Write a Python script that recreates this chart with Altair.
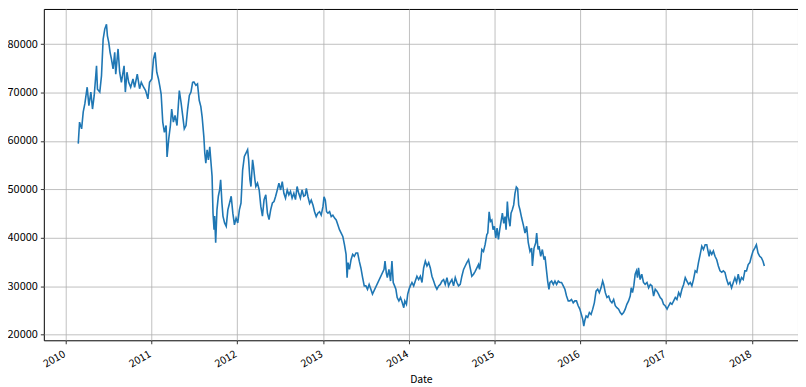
import altair as alt
import pandas as pd

t_years = [
    2010.147, 2010.162, 2010.186, 2010.205, 2010.224, 2010.251, 2010.271, 2010.294, 2010.313, 2010.333,
    2010.360, 2010.371, 2010.398, 2010.418, 2010.437, 2010.456, 2010.476, 2010.487, 2010.503, 2010.518,
    2010.534, 2010.553, 2010.572, 2010.584, 2010.611, 2010.630, 2010.650, 2010.681, 2010.696, 2010.715,
    2010.735, 2010.758, 2010.785, 2010.804, 2010.835, 2010.862, 2010.882, 2010.909, 2010.932, 2010.959,
    2010.978, 2011.005, 2011.025, 2011.044, 2011.063, 2011.083, 2011.098, 2011.114, 2011.133, 2011.152,
    2011.172, 2011.183, 2011.203, 2011.222, 2011.237, 2011.257, 2011.276, 2011.299, 2011.326, 2011.346,
    2011.365, 2011.384, 2011.404, 2011.423, 2011.443, 2011.462, 2011.481,
    2011.496, 2011.519, 2011.538, 2011.558, 2011.577, 2011.592, 2011.612, 2011.623, 2011.635, 2011.650,
    2011.665, 2011.681, 2011.696, 2011.708, 2011.719, 2011.731, 2011.738, 2011.750, 2011.765, 2011.781,
    2011.796, 2011.808, 2011.823, 2011.835, 2011.854, 2011.873, 2011.892, 2011.912, 2011.931, 2011.950,
    2011.969, 2011.988, 2012.008, 2012.027, 2012.046, 2012.065, 2012.085, 2012.104, 2012.123, 2012.135,
    2012.150, 2012.162, 2012.181, 2012.192, 2012.208, 2012.219, 2012.238, 2012.258, 2012.277, 2012.296,
    2012.315, 2012.335, 2012.354, 2012.373, 2012.392, 2012.412, 2012.431, 2012.450, 2012.469, 2012.488,
    2012.508, 2012.527, 2012.546, 2012.565, 2012.585, 2012.604, 2012.623, 2012.642, 2012.662, 2012.681,
    2012.700, 2012.719, 2012.738, 2012.758, 2012.777,
    2012.795, 2012.808, 2012.827, 2012.846, 2012.865, 2012.885, 2012.904, 2012.923, 2012.942, 2012.962,
    2012.981, 2013.000, 2013.012, 2013.027, 2013.042, 2013.058, 2013.077, 2013.096, 2013.115, 2013.135,
    2013.154, 2013.173, 2013.192, 2013.212, 2013.231, 2013.250, 2013.269, 2013.281, 2013.292, 2013.308,
    2013.327, 2013.346, 2013.365, 2013.385, 2013.404, 2013.423, 2013.442, 2013.462, 2013.481, 2013.500,
    2013.519, 2013.538, 2013.558, 2013.577, 2013.712, 2013.723, 2013.738, 2013.750, 2013.769, 2013.788,
    2013.804, 2013.819, 2013.835, 2013.850, 2013.865, 2013.885, 2013.904, 2013.923, 2013.942, 2013.954,
    2013.973, 2013.988, 2014.004, 2014.019, 2014.038, 2014.058, 2014.077, 2014.096,
    2014.116, 2014.136, 2014.155, 2014.174, 2014.194, 2014.213, 2014.233, 2014.252, 2014.271, 2014.291,
    2014.310, 2014.329, 2014.349, 2014.368, 2014.388, 2014.407, 2014.426, 2014.446, 2014.465, 2014.484,
    2014.504, 2014.523, 2014.543, 2014.562, 2014.581, 2014.601, 2014.620, 2014.640, 2014.659, 2014.678,
    2014.698, 2014.717, 2014.736, 2014.756, 2014.775, 2014.795, 2014.814, 2014.826, 2014.841, 2014.853,
    2014.872, 2014.891, 2014.911, 2014.922, 2014.938, 2014.953, 2014.969, 2014.984, 2015.000, 2015.016,
    2015.031, 2015.047, 2015.062, 2015.078, 2015.093, 2015.109, 2015.124, 2015.136, 2015.151, 2015.163,
    2015.182, 2015.194, 2015.209, 2015.225, 2015.240, 2015.256, 2015.271, 2015.283, 2015.298, 2015.318,
    2015.337, 2015.357, 2015.376, 2015.395, 2015.415, 2015.434,
    2015.443, 2015.462, 2015.482, 2015.493, 2015.509, 2015.520, 2015.540, 2015.559, 2015.579, 2015.590,
    2015.606, 2015.621, 2015.636, 2015.648, 2015.667, 2015.687, 2015.706, 2015.725, 2015.745, 2015.764,
    2015.783, 2015.803, 2015.822, 2015.841, 2015.861, 2015.880, 2015.899, 2015.919, 2015.938, 2015.957,
    2015.977, 2015.996, 2016.015, 2016.031, 2016.043, 2016.054, 2016.070, 2016.089, 2016.108, 2016.128,
    2016.147, 2016.166, 2016.186, 2016.205, 2016.224, 2016.244, 2016.263, 2016.275, 2016.294, 2016.313,
    2016.333, 2016.352, 2016.371, 2016.391, 2016.410, 2016.429, 2016.449, 2016.468, 2016.487, 2016.507,
    2016.526, 2016.545, 2016.565, 2016.584, 2016.596, 2016.611, 2016.626, 2016.642, 2016.657, 2016.669,
    2016.681, 2016.700, 2016.719, 2016.739, 2016.758,
    2016.780, 2016.799, 2016.819, 2016.838, 2016.857, 2016.876, 2016.896, 2016.915, 2016.934, 2016.954,
    2016.973, 2016.992, 2017.012, 2017.031, 2017.050, 2017.069, 2017.089, 2017.108, 2017.127, 2017.147,
    2017.166, 2017.185, 2017.205, 2017.224, 2017.243, 2017.263, 2017.282, 2017.301, 2017.320, 2017.340,
    2017.359, 2017.378, 2017.398, 2017.417, 2017.436, 2017.456, 2017.475, 2017.486, 2017.502, 2017.514,
    2017.533, 2017.552, 2017.571, 2017.591, 2017.610, 2017.629, 2017.649, 2017.668, 2017.687, 2017.707,
    2017.726, 2017.745, 2017.764, 2017.784, 2017.803, 2017.822, 2017.842, 2017.861, 2017.880, 2017.900,
    2017.919, 2017.938, 2017.958, 2017.977, 2017.996, 2018.015, 2018.035, 2018.054, 2018.073, 2018.093,
    2018.112, 2018.131, 2018.147,
]

price = [
    59450, 63900, 62500, 66000, 67700, 71100, 67300, 70100, 66600, 69400,
    75500, 70700, 70100, 73500, 81000, 83100, 84100, 81700, 80300, 78300,
    76900, 74900, 78300, 73800, 79000, 74200, 72100, 75500, 70100, 74200,
    72100, 71100, 72800, 71100, 73800, 70800, 72100, 71100, 70400, 68700,
    72100, 72800, 76900, 78300, 74200, 72800, 71400, 69700, 63900, 61800,
    63200, 56700, 60500, 63200, 66600, 63900, 65300, 63200, 70400, 68000,
    65300, 62500, 63200, 66600, 69400, 70100, 72100,
    72200, 71500, 71800, 68400, 67100, 65000, 60900, 57500, 55400, 58200,
    56100, 58800, 55400, 52700, 45100, 41700, 44500, 39000, 45800, 48600,
    49900, 52000, 47200, 44500, 43100, 42400, 45800, 47200, 48600, 45100,
    42700, 44100, 43100, 45800, 47200, 54000, 56800, 57500, 58200, 56100,
    52000, 50600, 56100, 54700, 52000, 50600, 51300, 49900, 46500, 44500,
    47900, 48900, 45100, 43800, 45800, 47200, 47500, 48600, 49900, 51300,
    49900, 51600, 49200, 48200, 49900, 48900, 49600, 48200, 49200, 47900,
    50600, 49200, 48200, 49900, 48600,
    48800, 50200, 48500, 47100, 47800, 46800, 45400, 44400, 45100, 45400,
    44700, 46500, 48500, 47800, 45400, 45100, 45400, 44400, 44700, 44100,
    43700, 42700, 41700, 41000, 40300, 38600, 36600, 31800, 34900, 33500,
    35500, 36600, 36200, 36900, 36900, 35200, 33800, 31800, 30100, 30100,
    29400, 30400, 29400, 28400, 33500, 35200, 32800, 31800, 33500, 31100,
    35200, 30800, 30100, 29400, 27700, 27000, 27700, 26700, 25600, 27000,
    26300, 28400, 29400, 30100, 30800, 30100, 31100, 32100,
    31400, 32100, 30800, 33800, 35200, 34200, 34900, 33800, 32100, 31100,
    30100, 29400, 30100, 30400, 31100, 31400, 30400, 31800, 30100, 30800,
    31400, 30100, 31800, 30800, 30100, 30400, 32100, 33500, 34200, 34900,
    35500, 33800, 32100, 32500, 33100, 33800, 34500, 33500, 35500, 37600,
    37200, 38600, 40700, 41000, 45400, 43400, 43700, 41700, 42400, 40000,
    42000, 39700, 41700, 43400, 45100, 43000, 44400, 41700, 47500, 44400,
    42400, 45100, 45800, 46800, 49200, 50500, 50200, 46800, 45800, 44100,
    42700, 41000, 42400, 39000, 37200, 37900,
    34200, 37900, 39000, 41000, 37600, 38300, 36200, 37600, 35500, 36200,
    33500, 31100, 29400, 30800, 31100, 30400, 31100, 30400, 31100, 30800,
    30800, 30100, 29400, 28000, 27000, 27000, 27300, 26600, 27000, 27000,
    26000, 25300, 24200, 23200, 21800, 22900, 23900, 23600, 24600, 24200,
    25300, 26600, 29000, 29400, 28700, 29700, 31100, 30400, 28700, 27700,
    28000, 27000, 26600, 27300, 26000, 25600, 25300, 24600, 24200, 24600,
    25300, 26300, 27000, 28000, 29700, 28700, 30100, 32500, 33200, 31800,
    33800, 31400, 32500, 30800, 30400,
    30800, 29700, 30400, 30100, 28000, 29400, 29000, 28400, 27700, 27300,
    26300, 26000, 25300, 26000, 26600, 26300, 27000, 27700, 27300, 28700,
    28000, 29400, 30400, 31800, 31100, 30400, 30800, 30100, 31400, 33200,
    32900, 34900, 36600, 38300, 37600, 38600, 38600, 37600, 36200, 37300,
    36600, 37300, 36200, 35500, 34200, 33200, 32900, 33200, 32900, 31400,
    30400, 30800, 29700, 30800, 31800, 30800, 32500, 30800, 31800, 31400,
    33200, 33200, 34500, 34900, 36200, 37300, 37900, 38600, 36900, 36200,
    35900, 35200, 34200,
]

year_ticks = [2010, 2011, 2012, 2013, 2014, 2015, 2016, 2017, 2018]
y_ticks = [20000, 30000, 40000, 50000, 60000, 70000, 80000]
x_domain = ["2009-09-30", "2018-07-17"]
y_domain = [18870, 87250]


def to_date(t):
    y = int(t)
    return (pd.Timestamp(y, 1, 1) + pd.Timedelta(days=(t - y) * 365.25)).strftime("%Y-%m-%dT%H:%M:%S")


df = pd.DataFrame({"Date": [to_date(t) for t in t_years], "Close": price})
tick_dates = [pd.Timestamp(y, 1, 1).strftime("%Y-%m-%dT%H:%M:%S") for y in year_ticks]

FONT = "Noto Sans CJK KR"

chart = (
    alt.Chart(df)
    .mark_line(color="#1f77b4", strokeWidth=1.6)
    .encode(
        x=alt.X(
            "Date:T",
            scale=alt.Scale(domain=x_domain, nice=False),
            axis=alt.Axis(
                title="Date",
                values=tick_dates,
                format="%Y",
                labelAngle=-30,
                labelAlign="right",
                labelBaseline="top",
                labelPadding=5,
                labelOffset=-4,
                labelFontSize=10.5,
                titlePadding=5,
                grid=True,
            ),
        ),
        y=alt.Y(
            "Close:Q",
            scale=alt.Scale(domain=y_domain, nice=False, zero=False),
            axis=alt.Axis(title=None, values=y_ticks, format="d", labelPadding=3, labelFontSize=11, grid=True),
        ),
    )
    .properties(
        width=758,
        height=333,
        autosize=alt.AutoSizeParams(type="none"),
        padding={"left": 36, "top": 0, "right": 0, "bottom": 52},
    )
    .configure_view(stroke="#000000", strokeWidth=1)
    .configure_axis(
        domain=False,
        gridColor="#b0b0b0",
        gridWidth=0.8,
        tickColor="#000000",
        tickSize=3.5,
        tickWidth=0.8,
        labelColor="#000000",
        labelFont=FONT,
        labelFontSize=10,
        titleFont=FONT,
        titleFontSize=10.5,
        titleFontWeight="normal",
        titleColor="#000000",
    )
)

chart.save("out.html", embed_options={"renderer": "svg", "actions": False})
